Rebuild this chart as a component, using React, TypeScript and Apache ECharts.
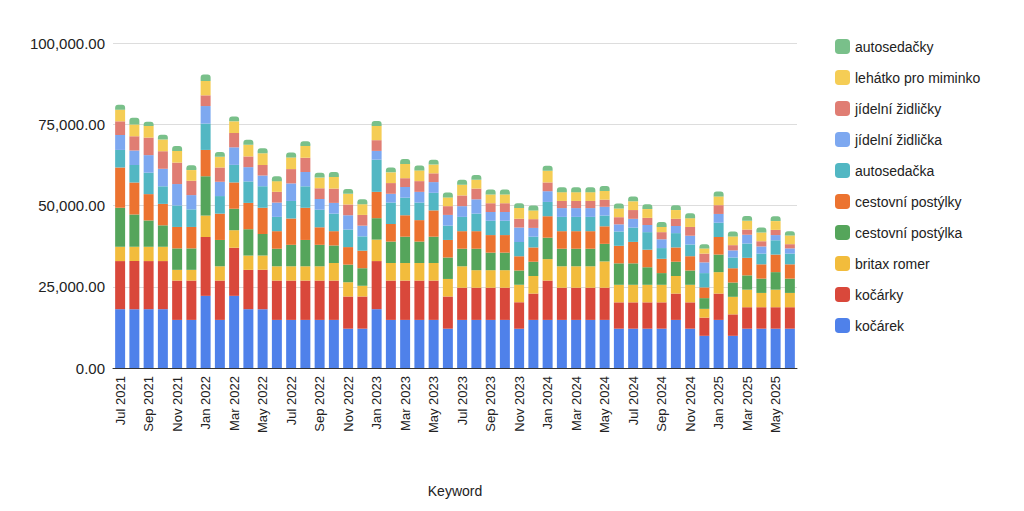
import { useEffect, useRef } from 'react';
import * as echarts from 'echarts';

const MONTHS = ['Jan', 'Feb', 'Mar', 'Apr', 'May', 'Jun', 'Jul', 'Aug', 'Sep', 'Oct', 'Nov', 'Dec'];
const categories: string[] = [];
for (let i = 0; i < 48; i++) {
  const m = (6 + i) % 12;
  const y = 2021 + Math.floor((6 + i) / 12);
  categories.push(`${MONTHS[m]} ${y}`);
}

const kocarek = [18100, 18100, 18100, 18100, 14800, 14800, 22200, 14800, 22200, 18100, 18100, 14800, 14800, 14800, 14800, 14800, 12100, 12100, 18100, 14800, 14800, 14800, 14800, 12100, 14800, 14800, 14800, 14800, 12100, 14800, 14800, 14800, 14800, 14800, 14800, 12100, 12100, 12100, 12100, 14800, 12100, 9900, 14800, 9900, 12100, 12100, 12100, 12100];
const kocarky = [14800, 14800, 14800, 14800, 12100, 12100, 18100, 12100, 14800, 12100, 12100, 12100, 12100, 12100, 12100, 12100, 9900, 9900, 14800, 12100, 12100, 12100, 12100, 9900, 9900, 9900, 9900, 9900, 8100, 8100, 12100, 9900, 9900, 9900, 9900, 8100, 8100, 8100, 8100, 8100, 8100, 5600, 8100, 6600, 6600, 6600, 6600, 6600];
const britax = [4400, 4400, 4400, 4400, 3300, 3300, 6600, 4400, 5400, 4400, 4400, 4400, 4400, 4400, 4400, 5400, 4400, 3300, 6600, 5400, 5400, 5400, 5400, 5400, 6600, 5400, 5400, 5400, 5400, 5400, 6600, 6600, 6600, 6600, 8100, 5400, 5400, 5400, 5400, 5400, 5400, 2700, 6600, 5400, 5400, 4400, 5400, 4400];
const postylka = [12000, 9900, 8100, 6600, 6600, 6600, 12100, 8100, 6600, 8100, 6600, 5400, 6600, 8100, 6600, 5400, 5400, 5400, 6600, 6600, 8100, 6600, 8100, 6600, 5400, 6600, 5400, 5400, 4400, 4400, 6600, 5400, 5400, 5400, 5400, 6600, 6600, 5400, 3600, 4400, 4400, 3300, 5400, 4400, 4400, 4400, 5400, 4400];
const postylky = [12400, 9900, 8100, 6600, 6600, 6600, 8100, 8100, 8100, 8100, 8100, 5400, 8100, 9900, 5400, 4400, 5400, 5400, 8100, 5400, 6600, 6600, 8100, 5400, 5400, 5400, 5400, 5400, 4400, 4400, 6600, 5400, 5400, 5400, 5400, 5400, 6600, 5400, 4400, 4400, 4400, 3300, 5400, 4400, 5400, 4400, 5400, 4400];
const autosedacka = [5400, 5400, 6600, 5400, 6600, 5400, 8100, 5400, 5400, 6600, 6600, 4400, 5400, 6600, 5400, 5400, 5400, 4400, 9900, 6600, 5400, 5400, 5400, 4400, 4400, 5400, 4400, 4400, 4400, 3300, 4400, 4400, 4400, 4400, 3300, 4400, 4400, 5400, 3300, 4400, 3600, 4400, 4400, 3300, 4400, 3300, 4400, 3300];
const zidlicka = [4600, 4400, 5400, 5400, 6600, 4400, 5400, 4400, 5400, 4400, 3300, 4400, 5400, 4400, 3300, 3300, 4400, 3300, 2700, 2700, 3300, 3300, 3300, 3300, 3300, 4400, 2700, 2700, 4400, 2700, 3300, 2700, 2700, 2700, 2700, 2200, 2700, 2200, 2700, 2200, 2700, 3300, 2700, 2200, 2700, 2200, 1600, 1600];
const zidlicky = [4200, 4400, 5400, 5400, 6600, 4400, 3300, 4400, 4400, 3300, 3300, 3300, 4400, 4400, 3300, 4400, 3300, 3300, 3300, 3300, 2700, 3300, 2700, 2700, 3300, 3300, 2700, 2700, 2700, 2700, 2700, 2200, 2200, 2200, 2200, 2200, 2700, 2200, 2200, 2200, 2700, 2700, 2700, 1600, 1600, 1600, 1600, 1300];
const lehatko = [3600, 3600, 3600, 3600, 3600, 3300, 4400, 3300, 3600, 3600, 3600, 3300, 3600, 3600, 3300, 3600, 3300, 3300, 4400, 3300, 4400, 3300, 2700, 2700, 3300, 2700, 2700, 2700, 3300, 2700, 3600, 2700, 2700, 2700, 2700, 2700, 2700, 2700, 1600, 2700, 2700, 1600, 2700, 2700, 2700, 2700, 2700, 2700];
const autosedacky = [1500, 2100, 1300, 1500, 1500, 1500, 2000, 1500, 1500, 1500, 1500, 1500, 1500, 1500, 1500, 1500, 1500, 1500, 1500, 1500, 1500, 1500, 1500, 1500, 1500, 1500, 1500, 1500, 1500, 1500, 1500, 1500, 1500, 1500, 1500, 1500, 1500, 1500, 1500, 1500, 1500, 1300, 1500, 1500, 1500, 1500, 1500, 1300];

const SERIES = [
  { name: 'kočárek', data: kocarek, color: '#4f81ea' },
  { name: 'kočárky', data: kocarky, color: '#d9483b' },
  { name: 'britax romer', data: britax, color: '#f2bc3c' },
  { name: 'cestovní postýlka', data: postylka, color: '#55a55b' },
  { name: 'cestovní postýlky', data: postylky, color: '#ec7330' },
  { name: 'autosedačka', data: autosedacka, color: '#52b7c3' },
  { name: 'jídelní židlička', data: zidlicka, color: '#7da8f0' },
  { name: 'jídelní židličky', data: zidlicky, color: '#e07d73' },
  { name: 'lehátko pro miminko', data: lehatko, color: '#f5cd55' },
  { name: 'autosedačky', data: autosedacky, color: '#79c08a' },
];

export default function App() {
  const ref = useRef<HTMLDivElement>(null);

  useEffect(() => {
    if (!ref.current) return;
    const chart = echarts.init(ref.current, null, { renderer: 'svg' });
    chart.setOption({
      animation: false,
      textStyle: { fontFamily: 'Arial, "Liberation Sans", sans-serif' },
      legend: {
        orient: 'vertical',
        left: 822,
        top: 26,
        itemWidth: 15,
        itemHeight: 15,
        itemGap: 16,
        icon: 'roundRect',
        textStyle: { fontSize: 14, color: '#222' },
        data: SERIES.map(s => s.name).reverse(),
      },
      grid: { left: 105, right: 219, top: 35, bottom: 128 },
      xAxis: {
        type: 'category',
        data: categories,
        name: 'Keyword',
        nameLocation: 'middle',
        nameGap: 116,
        nameTextStyle: { fontSize: 14, color: '#222' },
        axisTick: { show: false },
        axisLine: { lineStyle: { color: '#333' } },
        axisLabel: { interval: 1, rotate: 90, fontSize: 13, color: '#222' },
      },
      yAxis: {
        type: 'value',
        min: 0,
        max: 100000,
        interval: 25000,
        axisLabel: {
          fontSize: 15,
          color: '#222',
          formatter: (v: number) => v.toLocaleString('en-US', { minimumFractionDigits: 2 }),
        },
        splitLine: { lineStyle: { color: '#ddd' } },
      },
      series: SERIES.map((s, i) => ({
        name: s.name,
        type: 'bar',
        stack: 'total',
        barCategoryGap: '30%',
        data: s.data,
        itemStyle: {
          color: s.color,
          borderRadius: i === SERIES.length - 1 ? [3, 3, 0, 0] : 0,
        },
      })),
    });
    return () => chart.dispose();
  }, []);

  return <div ref={ref} style={{ width: 1008, height: 495 }} />;
}
